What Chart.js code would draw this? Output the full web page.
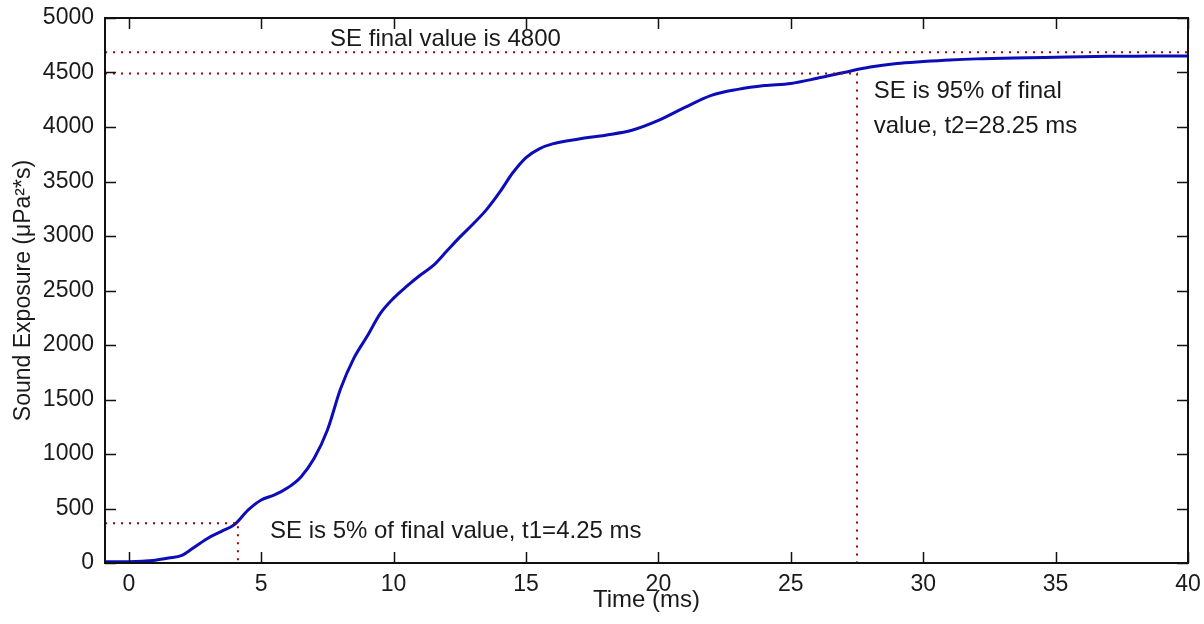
<!DOCTYPE html>
<html>
<head>
<meta charset="utf-8">
<script src="https://cdn.jsdelivr.net/npm/chart.js@4/dist/chart.umd.min.js"></script>
<style>
html,body{margin:0;padding:0;background:#fff;}
canvas{display:block;}
</style>
</head>
<body>
<canvas id="c" width="1204" height="624"></canvas>
<script>
// ---- data ----
const timeMs = [-0.9, 0, 0.5, 1, 1.5, 2, 2.5, 3, 3.5, 4, 4.5, 5, 5.5, 6, 6.5, 7, 7.5, 8, 8.5, 9, 9.5, 10, 10.5, 11, 11.5, 12, 12.5, 13, 13.5, 14, 14.5, 15, 15.5, 16, 17, 18, 19, 20, 21, 22, 23, 24, 25, 26, 27, 28, 29, 30, 31, 32, 33, 34, 35, 36, 37, 38, 39, 40];
const exposure = [12, 12, 15, 25, 45, 70, 150, 230, 290, 355, 485, 578, 624, 690, 790, 960, 1220, 1600, 1880, 2080, 2290, 2430, 2540, 2640, 2730, 2860, 2990, 3110, 3240, 3400, 3580, 3720, 3800, 3845, 3890, 3925, 3970, 4060, 4180, 4290, 4345, 4380, 4400, 4447, 4500, 4550, 4582, 4600, 4615, 4625, 4630, 4636, 4640, 4645, 4648, 4650, 4651, 4652];
const xTickValues = [0, 5, 10, 15, 20, 25, 30, 35, 40];
const yTickValues = [0, 500, 1000, 1500, 2000, 2500, 3000, 3500, 4000, 4500, 5000];
const xRange = [-0.9, 40];
const yRange = [0, 5000];
const finalLevel = 4685;
const level95 = 4490;
const time95 = 27.5;
const level5 = 365;
const time5 = 4.12;
const noteTexts = ["SE final value is 4800", "SE is 95% of final", "value, t2=28.25 ms", "SE is 5% of final value, t1=4.25 ms"];
const noteTimes = [7.6, 28.13, 28.13, 5.33];
const noteLevels = [4743, 4263, 3942, 226];
const xTitle = "Time (ms)";
const yTitle = "Sound Exposure (\u03bcPa\u00b2*s)";

// ---- chart ----
const FONT = '"Liberation Sans", Arial, sans-serif';
const TEXT = '#1a1a1a';
Chart.defaults.font.family = FONT;
Chart.defaults.color = TEXT;

const curve = timeMs.map((t, i) => ({x: t, y: exposure[i]}));
const dotted = {borderColor: '#a30000', borderWidth: 2, borderDash: [2, 6], pointRadius: 0, fill: false, tension: 0};

const framePlugin = {
  id: 'frame',
  afterDatasetsDraw(chart) {
    const {ctx, chartArea: a, scales: {x, y}} = chart;
    ctx.save();
    ctx.strokeStyle = '#111';
    ctx.lineWidth = 2;
    ctx.strokeRect(a.left, a.top, a.right - a.left, a.bottom - a.top);
    const L = 11;
    ctx.lineWidth = 1.5;
    ctx.beginPath();
    x.ticks.forEach(t => {
      const px = Math.round(x.getPixelForValue(t.value)) + 0.5;
      ctx.moveTo(px, a.bottom); ctx.lineTo(px, a.bottom - L);
      ctx.moveTo(px, a.top); ctx.lineTo(px, a.top + L);
    });
    y.ticks.forEach(t => {
      const py = Math.round(y.getPixelForValue(t.value)) + 0.5;
      ctx.moveTo(a.left, py); ctx.lineTo(a.left + L, py);
      ctx.moveTo(a.right, py); ctx.lineTo(a.right - L, py);
    });
    ctx.stroke();
    ctx.fillStyle = TEXT;
    ctx.font = '24px ' + FONT;
    ctx.textAlign = 'left';
    ctx.textBaseline = 'alphabetic';
    noteTexts.forEach((s, i) => {
      ctx.fillText(s, x.getPixelForValue(noteTimes[i]), y.getPixelForValue(noteLevels[i]));
    });
    ctx.restore();
  }
};

new Chart(document.getElementById('c'), {
  type: 'line',
  data: {
    datasets: [
      Object.assign({label: 'final', data: [{x: xRange[0], y: finalLevel}, {x: xRange[1], y: finalLevel}]}, dotted),
      Object.assign({label: '95%', data: [{x: xRange[0], y: level95}, {x: time95, y: level95}, {x: time95, y: yRange[0]}]}, dotted),
      Object.assign({label: '5%', data: [{x: xRange[0], y: level5}, {x: time5, y: level5}, {x: time5, y: yRange[0]}]}, dotted),
      {label: 'SE', data: curve, borderColor: 'rgb(12,12,185)', borderWidth: 3, pointRadius: 0, fill: false, cubicInterpolationMode: 'monotone'}
    ]
  },
  options: {
    responsive: false,
    animation: false,
    devicePixelRatio: 1,
    layout: {padding: {left: 0, right: 16, top: 18, bottom: 0}},
    plugins: {legend: {display: false}, tooltip: {enabled: false}},
    scales: {
      x: {
        type: 'linear', min: xRange[0], max: xRange[1],
        afterBuildTicks: s => { s.ticks = xTickValues.map(v => ({value: v})); },
        afterFit: s => { s.height = 61; s.paddingLeft = 0; s.paddingRight = 0; },
        grid: {display: false, drawTicks: false},
        border: {display: false},
        ticks: {font: {size: 23}, color: TEXT, padding: 8, maxRotation: 0, autoSkip: false, callback: v => String(v)},
        title: {display: true, text: xTitle, font: {size: 24}, color: TEXT, padding: {top: 0, bottom: 9}}
      },
      y: {
        type: 'linear', min: yRange[0], max: yRange[1],
        afterBuildTicks: s => { s.ticks = yTickValues.map(v => ({value: v})); },
        afterFit: s => { s.width = 105; s.paddingTop = 0; s.paddingBottom = 0; },
        grid: {display: false, drawTicks: false},
        border: {display: false},
        ticks: {font: {size: 23}, color: TEXT, padding: 11, autoSkip: false, callback: v => String(v)},
        title: {display: true, text: yTitle, font: {size: 23}, color: TEXT, padding: {top: 10, bottom: 0}}
      }
    }
  },
  plugins: [framePlugin]
});
</script>
</body>
</html>
